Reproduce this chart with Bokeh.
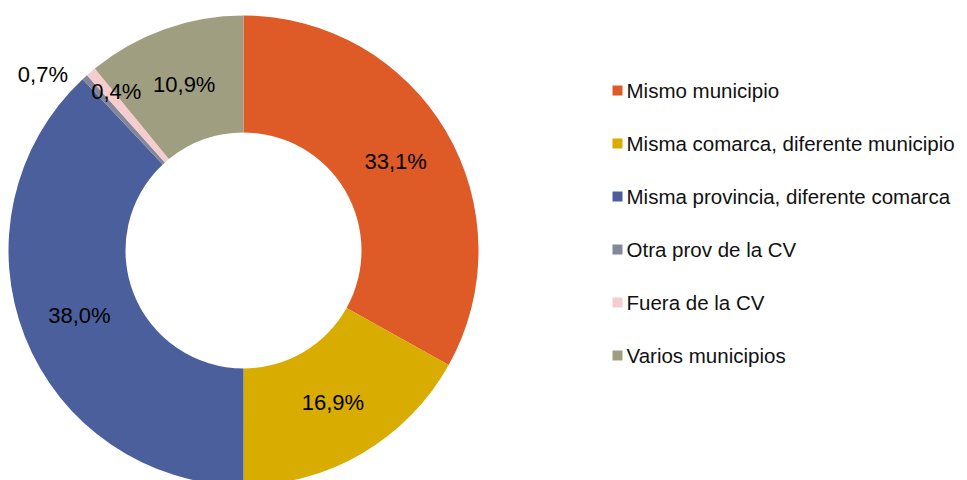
import math
from bokeh.plotting import figure
from bokeh.models import ColumnDataSource, Range1d
from bokeh.core.properties import value
from bokeh.embed import file_html
from bokeh.resources import INLINE

categories = ["Mismo municipio", "Misma comarca, diferente municipio",
              "Misma provincia, diferente comarca", "Otra prov de la CV",
              "Fuera de la CV", "Varios municipios"]
shares = [33.1, 16.9, 38.0, 0.4, 0.7, 10.9]
labels = ["33,1%", "16,9%", "38,0%", "0,4%", "0,7%", "10,9%"]
colors = ["#DE5A26", "#D8AC00", "#4A5F9C", "#84869A", "#F6CDCE", "#A09E80"]

W, H = 967, 480
p = figure(width=W, height=H, output_backend="svg", toolbar_location=None,
           x_range=Range1d(0, W), y_range=Range1d(0, H), min_border=0)
p.axis.visible = False
p.grid.visible = False
p.outline_line_color = None
p.background_fill_color = "white"
p.border_fill_color = "white"

cx, cy = 243, H - 250
r_out, r_in = 235, 118
total = sum(shares)
starts, ends = [], []
cum = 0.0
for s in shares:
    a0 = math.pi / 2 - 2 * math.pi * cum / total
    cum += s
    a1 = math.pi / 2 - 2 * math.pi * cum / total
    starts.append(a1)
    ends.append(a0)

src = ColumnDataSource(dict(start=starts, end=ends, color=colors))
p.annular_wedge(x=cx, y=cy, inner_radius=r_in, outer_radius=r_out,
                start_angle="start", end_angle="end", fill_color="color",
                line_color=None, source=src)

# labels at mid radius, with nudges for the two thin slices
r_mid = (r_in + r_out) / 2
xo = [0, 0, 0, -8, -86, 0]
yo = [0, 0, 0, -29, -42, 0]
lx, ly = [], []
for a0, a1 in zip(starts, ends):
    m = (a0 + a1) / 2
    lx.append(cx + r_mid * math.cos(m))
    ly.append(cy + r_mid * math.sin(m))
lsrc = ColumnDataSource(dict(x=lx, y=ly, t=labels, xo=xo, yo=yo))
p.text(x="x", y="y", text="t", x_offset="xo", y_offset="yo", source=lsrc,
       text_font=value("Liberation Sans"), text_font_size="22px",
       text_align="center", text_baseline="middle", text_color="black")

# legend
n = len(categories)
leg_y = [H - (90 + 53 * i) for i in range(n)]
leg_src = ColumnDataSource(dict(x=[617] * n, tx=[626] * n, y=leg_y, c=colors, t=categories))
p.rect(x="x", y="y", width=10, height=10, fill_color="c", line_color=None, source=leg_src)
p.text(x="tx", y="y", text="t", source=leg_src,
       text_font=value("Liberation Sans"), text_font_size="20.5px",
       text_align="left", text_baseline="middle", text_color="#111111")

open("out.html", "w").write(file_html(p, INLINE))
